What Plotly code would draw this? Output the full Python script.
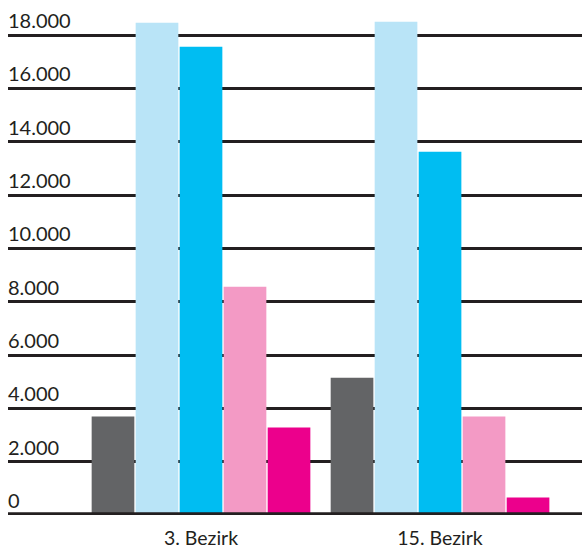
import plotly.graph_objects as go

# District categories and the five series per district
districts = ["3. Bezirk", "15. Bezirk"]
series_a = [3690, 5150]    # dark grey
series_b = [18460, 18500]  # light blue
series_c = [17560, 13620]  # blue
series_d = [8560, 3690]    # pink
series_e = [3280, 660]     # magenta

colors = ["#636466", "#b9e4f7", "#00bdf2", "#f39ac5", "#ec008c"]

# Y gridline values and their labels
y_ticks = [0, 2000, 4000, 6000, 8000, 10000, 12000, 14000, 16000, 18000]
y_labels = ["0", "2.000", "4.000", "6.000", "8.000", "10.000",
            "12.000", "14.000", "16.000", "18.000"]

INK = "#231f20"
FONT = "Lato, 'Open Sans', sans-serif"

fig = go.Figure()
for vals, col in zip([series_a, series_b, series_c, series_d, series_e], colors):
    fig.add_trace(go.Bar(
        x=districts, y=vals,
        marker=dict(color=col, line=dict(width=0)),
        showlegend=False, hoverinfo="skip",
    ))

# Gridline labels sit above each line, left aligned
annotations = [
    dict(x=0, y=v, xref="paper", yref="y", text=t, showarrow=False,
         xanchor="left", yanchor="bottom", yshift=1, xshift=-2,
         font=dict(family=FONT, size=20, color=INK))
    for v, t in zip(y_ticks, y_labels)
]

fig.update_layout(
    width=582, height=549,
    margin=dict(l=8, r=0, t=0, b=34, autoexpand=False),
    paper_bgcolor="white", plot_bgcolor="white",
    barmode="group", bargap=0.0795, bargroupgap=0.03,
    annotations=annotations,
    shapes=[dict(type="line", xref="paper", yref="y", x0=0, x1=1, y0=0, y1=0,
                 line=dict(color=INK, width=5.5), layer="above")],
    xaxis=dict(
        type="category", range=[-0.8075, 1.594], automargin=False,
        showgrid=False, zeroline=False, showline=False,
        ticks="", ticklabelstandoff=9,
        tickfont=dict(family=FONT, size=19.5, color=INK),
    ),
    yaxis=dict(
        range=[0, 19312.5], tickvals=y_ticks, showticklabels=False,
        automargin=False,
        showgrid=True, gridcolor=INK, gridwidth=3,
        zeroline=False, showline=False, ticks="",
    ),
)

fig.write_html("out.html")
